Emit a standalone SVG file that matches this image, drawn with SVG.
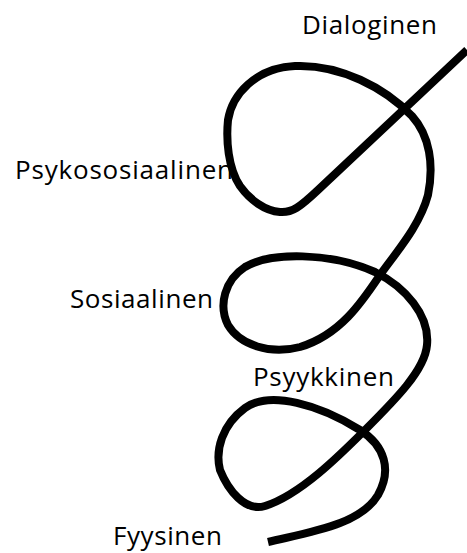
<svg xmlns="http://www.w3.org/2000/svg" width="467" height="553" viewBox="0 0 467 553">
<style>
.lbl{font-family:"Open Sans","Noto Sans",sans-serif;font-size:26px;fill:#000}
.curve{fill:none;stroke:#000;stroke-width:8;stroke-linejoin:round}
</style>
<rect width="467" height="553" fill="#fff"/>
<g id="labels">
<g id="dialoginen"><text class="lbl" x="302" y="34" textLength="135">Dialoginen</text></g>
<g id="psykososiaalinen"><text class="lbl" x="15" y="179" textLength="218">Psykososiaalinen</text></g>
<g id="sosiaalinen"><text class="lbl" x="70" y="308" textLength="143">Sosiaalinen</text></g>
<g id="psyykkinen"><text class="lbl" x="253" y="386" textLength="141">Psyykkinen</text></g>
<g id="fyysinen"><text class="lbl" x="113" y="545" textLength="109">Fyysinen</text></g>
</g>
<g id="connectors">
<path class="curve" d="M467,50 L318,190 C300,207 292,213 280,212 C265,211 250,200 240,186 C228,168 226,140 228,120 C232,95 255,68 295,66 C340,64 385,88 412,116 C430,136 434,165 428,195 C420,225 398,250 380,275 C362,302 340,335 300,347 C270,355 240,345 228,325 C218,305 225,280 245,267 C270,252 330,252 375,272 C405,287 430,315 427,345 C425,370 395,400 365,430 C340,455 300,495 265,506 C245,512 228,490 220,470 C215,450 222,425 245,408 C270,390 320,405 360,430 C385,446 392,470 378,495 C360,525 310,532 268,542"/>
</g>
</svg>
